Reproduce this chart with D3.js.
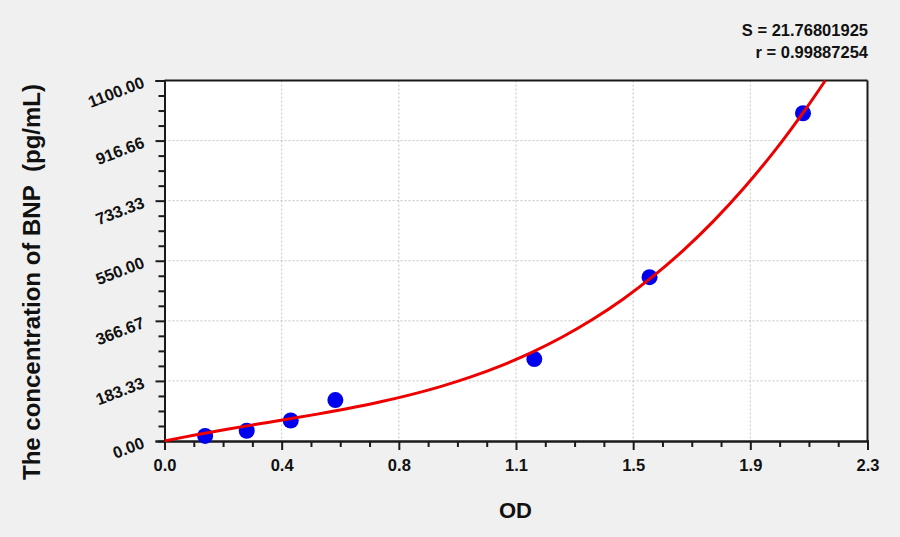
<!DOCTYPE html>
<html>
<head>
<meta charset="utf-8">
<script src="https://cdn.jsdelivr.net/npm/d3@7"></script>
<style>
  html, body { margin: 0; padding: 0; background: #f0f0f0; }
  svg { display: block; font-family: "Liberation Sans", Arial, sans-serif; }
</style>
</head>
<body>
<svg id="chart" width="900" height="537"></svg>
<script>
// ---- data ----
const xTickLabels = ["0.0", "0.4", "0.8", "1.1", "1.5", "1.9", "2.3"];
const yTickLabels = ["0.00", "183.33", "366.67", "550.00", "733.33", "916.66", "1100.00"];
const standardOD = [0.133, 0.269, 0.413, 0.559, 1.21, 1.587, 2.089];
const standardConc = [15.6, 31.25, 62.5, 125, 250, 500, 1000];
const fitOD = [0, 0.1, 0.2, 0.3, 0.4, 0.5, 0.6, 0.7, 0.8, 0.9, 1.0, 1.1, 1.2, 1.3, 1.4, 1.5, 1.6, 1.7, 1.8, 1.9, 2.0, 2.1, 2.162];
const fitConc = [0, 18.4, 35.1, 50.8, 66.1, 82.0, 99.1, 118.1, 139.9, 165.2, 194.8, 229.4, 269.7, 316.5, 370.6, 432.7, 503.6, 583.9, 674.6, 776.3, 889.8, 1015.8, 1100];
const statLines = ["S = 21.76801925", "r = 0.99887254"];
const xTitle = "OD";
const yTitle = "The concentration of BNP\u00a0\u00a0(pg/mL)";

// ---- layout ----
const svg = d3.select("#chart");
const L = 164.5, R = 867.5, T = 80.5, B = 441;
const xMax = 2.3, yMax = 1100;
const x = d3.scaleLinear().domain([0, xMax]).range([L, R]);
const y = d3.scaleLinear().domain([0, yMax]).range([B, T]);
const nMajor = xTickLabels.length - 1;
const xMajor = d3.range(nMajor + 1).map(i => i * xMax / nMajor);
const yMajor = d3.range(yTickLabels.length).map(i => i * yMax / (yTickLabels.length - 1));
const xMinor = d3.range(nMajor * 4 + 1).map(i => i * xMax / (nMajor * 4)).filter((d, i) => i % 4 !== 0);
const yMinor = d3.range((yTickLabels.length - 1) * 4 + 1).map(i => i * yMax / ((yTickLabels.length - 1) * 4)).filter((d, i) => i % 4 !== 0);

// plot background
svg.append("rect").attr("x", L).attr("y", T).attr("width", R - L).attr("height", B - T).attr("fill", "#ffffff");

// grid
const grid = svg.append("g").attr("stroke", "#c4c4c4").attr("stroke-width", 1).attr("stroke-dasharray", "2,2");
grid.selectAll("line.gx").data(xMajor.slice(1, -1)).join("line")
  .attr("x1", d => x(d)).attr("x2", d => x(d)).attr("y1", T).attr("y2", B);
grid.selectAll("line.gy").data(yMajor.slice(1, -1)).join("line")
  .attr("x1", L).attr("x2", R).attr("y1", d => y(d)).attr("y2", d => y(d));

// axes
const xAxis = svg.append("g").attr("transform", `translate(0,${B})`)
  .call(d3.axisBottom(x).tickValues(xMajor).tickSize(9).tickFormat((d, i) => xTickLabels[i]));
const xAxisMinor = svg.append("g").attr("transform", `translate(0,${B})`)
  .call(d3.axisBottom(x).tickValues(xMinor).tickSize(6).tickFormat(""));
const yAxis = svg.append("g").attr("transform", `translate(${L},0)`)
  .call(d3.axisLeft(y).tickValues(yMajor).tickSize(9).tickFormat((d, i) => yTickLabels[i]));
const yAxisMinor = svg.append("g").attr("transform", `translate(${L},0)`)
  .call(d3.axisLeft(y).tickValues(yMinor).tickSize(6).tickFormat(""));

[xAxis, xAxisMinor, yAxis, yAxisMinor].forEach(g => {
  g.select(".domain").attr("stroke", "#1a1a1a").attr("stroke-width", 2);
  g.selectAll(".tick line").attr("stroke", "#1a1a1a").attr("stroke-width", 2);
});
xAxis.selectAll(".tick text")
  .attr("font-size", 16.5).attr("font-weight", "bold").attr("fill", "#111")
  .attr("y", 0).attr("dy", null).attr("transform", "translate(0,30)");
yAxis.selectAll(".tick text")
  .attr("font-size", 16.5).attr("font-weight", "bold").attr("fill", "#111")
  .attr("x", 0).attr("dy", null).attr("text-anchor", "end")
  .attr("transform", "translate(-19,6) rotate(-21)");

// top & right frame
svg.append("line").attr("x1", L).attr("x2", R).attr("y1", T).attr("y2", T).attr("stroke", "#1a1a1a").attr("stroke-width", 2);
svg.append("line").attr("x1", R).attr("x2", R).attr("y1", T).attr("y2", B).attr("stroke", "#1a1a1a").attr("stroke-width", 2);

// clip
svg.append("clipPath").attr("id", "clip").append("rect")
  .attr("x", L).attr("y", T - 1).attr("width", R - L).attr("height", B - T + 2);

const fitData = fitOD.map((d, i) => [d, fitConc[i]]);
const lineGen = d3.line().x(d => x(d[0])).y(d => y(d[1])).curve(d3.curveCatmullRom);

// points
const pts = standardOD.map((d, i) => [d, standardConc[i]]);
svg.append("g").selectAll("circle").data(pts).join("circle")
  .attr("cx", d => x(d[0])).attr("cy", d => y(d[1])).attr("r", 8).attr("fill", "#0000ee");

// fitted curve
svg.append("path").datum(fitData)
  .attr("clip-path", "url(#clip)")
  .attr("fill", "none").attr("stroke", "#ee0000").attr("stroke-width", 3)
  .attr("d", lineGen);

// titles
svg.append("text").attr("x", 515.5).attr("y", 518).attr("text-anchor", "middle")
  .attr("font-size", 22).attr("font-weight", "bold").attr("fill", "#111").text(xTitle);
svg.append("text").attr("transform", "translate(40,282) rotate(-90)").attr("text-anchor", "middle")
  .attr("font-size", 24).attr("font-weight", "bold").attr("fill", "#111").text(yTitle);

// stats
svg.append("g").selectAll("text").data(statLines).join("text")
  .attr("x", 868).attr("y", (d, i) => 36 + i * 22).attr("text-anchor", "end")
  .attr("font-size", 16.5).attr("font-weight", "bold").attr("fill", "#111").text(d => d);
</script>
</body>
</html>
